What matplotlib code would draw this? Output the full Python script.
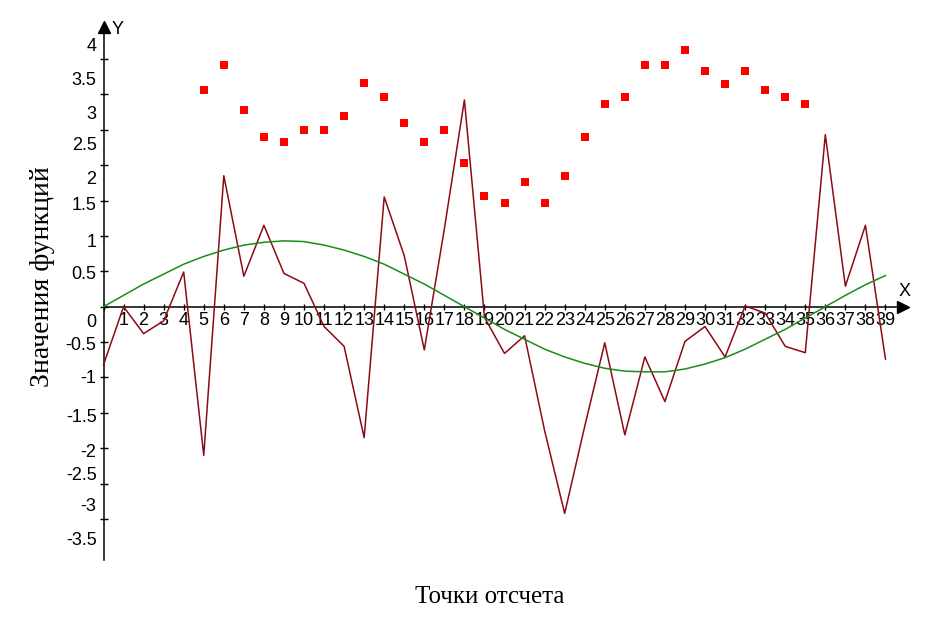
import numpy as np
import matplotlib.pyplot as plt

plt.rcParams['font.family'] = ['Liberation Sans', 'DejaVu Sans']

# sample numbers on the x axis
points = np.arange(40)

# noisy signal (dark red line)
signal = [-0.82, 0.0, -0.38, -0.2, 0.49, -2.1, 1.85, 0.43, 1.15, 0.47,
          0.33, -0.28, -0.56, -1.85, 1.55, 0.72, -0.61, 1.1, 2.92, -0.15,
          -0.66, -0.41, -1.75, -2.92, -1.69, -0.51, -1.81, -0.71, -1.34, -0.49,
          -0.28, -0.71, 0.01, -0.09, -0.56, -0.65, 2.43, 0.29, 1.15, -0.74]

# smooth curve (green line)
wave = [0.0, 0.16, 0.32, 0.46, 0.6, 0.71, 0.8, 0.87, 0.91, 0.93,
        0.92, 0.87, 0.8, 0.71, 0.6, 0.46, 0.32, 0.16, 0.0, -0.16,
        -0.32, -0.46, -0.6, -0.71, -0.8, -0.87, -0.91, -0.92, -0.92, -0.88,
        -0.81, -0.72, -0.6, -0.46, -0.32, -0.16, 0.0, 0.16, 0.31, 0.44]

# red squares
dots_x = np.arange(5, 36)
dots = [3.06, 3.41, 2.78, 2.40, 2.32, 2.50, 2.50, 2.69, 3.16, 2.96,
        2.60, 2.32, 2.50, 2.03, 1.56, 1.47, 1.76, 1.47, 1.85, 2.40,
        2.87, 2.96, 3.42, 3.42, 3.62, 3.33, 3.15, 3.33, 3.06, 2.96, 2.87]

# y tick labels as they are printed next to the axis
ylabels = ['4', '3.5', '3', '2.5', '2', '1.5', '1', '0.5', '0',
           '-0.5', '-1', '-1.5', '-2', '-2.5', '-3', '-3.5']
ylabel_pos = [3.70, 3.23, 2.75, 2.31, 1.83, 1.46, 0.94, 0.48, -0.19,
              -0.52, -0.99, -1.53, -2.03, -2.35, -2.80, -3.27]

fig = plt.figure(figsize=(9.37, 6.26), dpi=100)
ax = fig.add_axes([0, 0, 1, 1])
ax.set_xlim(-5.162, 41.57)
ax.set_ylim(-4.510, 4.332)

ax.plot(points, signal, color='#8b0a14', lw=1.1, zorder=3)
ax.plot(points, wave, color='#1a8c1a', lw=1.1, zorder=3)
ax.plot(dots_x, dots, 's', color='#ff0000', ms=5.5, mew=0, zorder=4)

# axes through the origin with arrows
for s in ['top', 'right']:
    ax.spines[s].set_visible(False)
ax.spines['left'].set_position(('data', 0))
ax.spines['bottom'].set_position(('data', 0))
ax.spines['left'].set_bounds(-3.58, 3.9)
ax.spines['bottom'].set_bounds(0, 39.8)
for s in ['left', 'bottom']:
    ax.spines[s].set_linewidth(1.1)
ax.plot([0], [3.95], '^', color='black', ms=9, clip_on=False, zorder=5)
ax.plot([39.87], [0], '>', color='black', ms=9, clip_on=False, zorder=5)
ax.text(0.72, 3.92, 'Y', fontsize=13, ha='center', va='center')
ax.text(39.93, 0.22, 'X', fontsize=13, ha='center', va='center')

ax.set_xticks(points, labels=[''] + [str(i) for i in points[1:]])
ax.tick_params(axis='x', direction='inout', length=5, width=1, pad=1.5,
               labelsize=13)

ax.set_yticks(np.arange(-3, 3.51, 0.5))
ax.set_yticks(ylabel_pos, labels=ylabels, minor=True)
ax.tick_params(axis='y', which='major', direction='inout', length=6,
               width=1, labelleft=False)
ax.tick_params(axis='y', which='minor', length=0, pad=5, labelsize=13)

fig.text(0.523, 0.046, 'Точки отсчета', family='Liberation Serif',
         fontsize=18, ha='center', va='center')
fig.text(0.045, 0.558, 'Значения функций', family='Liberation Serif',
         fontsize=20, ha='center', va='center', rotation=90)

fig.savefig('out.png', dpi=100)
